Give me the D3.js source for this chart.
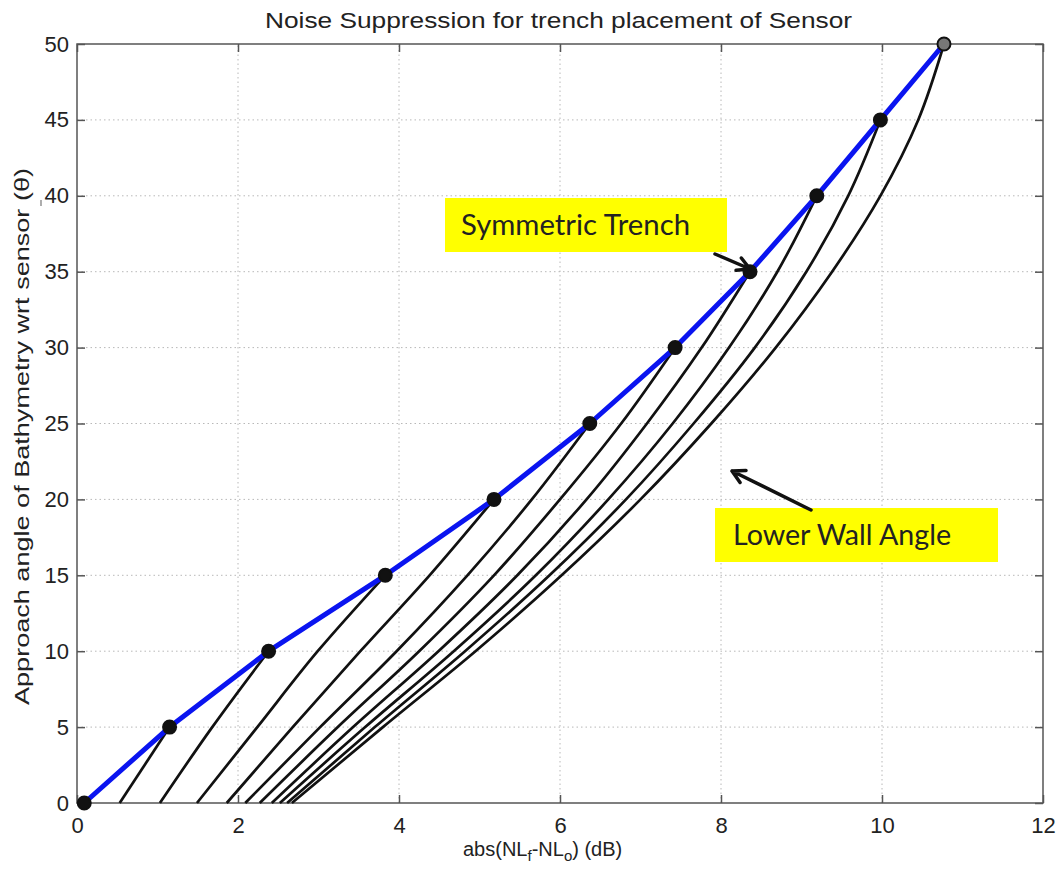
<!DOCTYPE html>
<html>
<head>
<meta charset="utf-8">
<script src="https://cdn.jsdelivr.net/npm/d3@7"></script>
<style>
  body { margin: 0; background: #fff; }
  text { font-family: "Liberation Sans", Arial, sans-serif; fill: #222; }
</style>
</head>
<body>
<svg id="chart"></svg>
<script>
// approach angle steps (deg)
const angles = [0, 5, 10, 15, 20, 25, 30, 35, 40, 45, 50]

// symmetric trench curve (blue)
const symmetricX = [0.09, 1.15, 2.38, 3.83, 5.18, 6.37, 7.43, 8.36, 9.19, 9.98, 10.77]

// lower wall angle curves, one per end angle (x at 0,5,10,... deg)
const wallCurves = [
  [0.53, 1.15],
  [1.03, 1.68, 2.38],
  [1.49, 2.24, 2.99, 3.83],
  [1.86, 2.68, 3.52, 4.38, 5.18],
  [2.09, 3.02, 3.97, 4.85, 5.65, 6.37],
  [2.27, 3.24, 4.25, 5.18, 6.00, 6.76, 7.43],
  [2.42, 3.43, 4.49, 5.47, 6.33, 7.08, 7.76, 8.36],
  [2.52, 3.58, 4.68, 5.70, 6.60, 7.40, 8.10, 8.70, 9.19],
  [2.61, 3.70, 4.82, 5.87, 6.82, 7.66, 8.42, 9.06, 9.58, 9.98],
  [2.67, 3.80, 4.95, 6.02, 7.00, 7.88, 8.68, 9.38, 9.98, 10.45, 10.77]
]

const xTicks = [0, 2, 4, 6, 8, 10, 12]
const yTicks = [0, 5, 10, 15, 20, 25, 30, 35, 40, 45, 50]

const width = 1058,
  height = 870

const margin = { top: 44, right: 15, bottom: 67, left: 77 }
const innerW = width - margin.left - margin.right,
  innerH = height - margin.top - margin.bottom

const svg = d3.select('#chart')
  .attr('width', width)
  .attr('height', height)

const x = d3.scaleLinear().domain([0, 12]).range([margin.left, margin.left + innerW])
const y = d3.scaleLinear().domain([0, 50]).range([margin.top + innerH, margin.top])

// grid
const grid = svg.append('g')
  .attr('stroke', '#b8b8b8')
  .attr('stroke-width', 1)
  .attr('stroke-dasharray', '1.5,3')

grid.selectAll('.vgrid')
  .data(xTicks.slice(1, -1))
  .enter().append('line')
  .attr('x1', d => x(d)).attr('x2', d => x(d))
  .attr('y1', y(0)).attr('y2', y(50))

grid.selectAll('.hgrid')
  .data(yTicks.slice(1, -1))
  .enter().append('line')
  .attr('x1', x(0)).attr('x2', x(12))
  .attr('y1', d => y(d)).attr('y2', d => y(d))

// axes with inward ticks (matlab box style)
const styleAxis = g => {
  g.select('.domain').remove()
  g.selectAll('.tick line').attr('stroke', '#555').attr('stroke-width', 1.5)
  g.selectAll('.tick text')
    .style('font-size', '22px')
    .style('font-family', '"Liberation Sans", Arial, sans-serif')
    .attr('fill', '#222')
}

svg.append('g')
  .attr('transform', `translate(0,${y(0)})`)
  .call(d3.axisBottom(x).tickValues(xTicks).tickSizeInner(-8).tickSizeOuter(0).tickPadding(14))
  .call(styleAxis)

svg.append('g')
  .attr('transform', `translate(0,${y(50)})`)
  .call(d3.axisTop(x).tickValues(xTicks).tickSizeInner(-8).tickSizeOuter(0).tickFormat(''))
  .call(styleAxis)

svg.append('g')
  .attr('transform', `translate(${x(0)},0)`)
  .call(d3.axisLeft(y).tickValues(yTicks).tickSizeInner(-8).tickSizeOuter(0).tickPadding(8))
  .call(styleAxis)

svg.append('g')
  .attr('transform', `translate(${x(12)},0)`)
  .call(d3.axisRight(y).tickValues(yTicks).tickSizeInner(-8).tickSizeOuter(0).tickFormat(''))
  .call(styleAxis)

svg.append('rect')
  .attr('x', x(0)).attr('y', y(50))
  .attr('width', x(12) - x(0)).attr('height', y(0) - y(50))
  .attr('fill', 'none')
  .attr('stroke', '#555')
  .attr('stroke-width', 1.5)

const curveLine = d3.line()
  .x(d => x(d[0]))
  .y(d => y(d[1]))
  .curve(d3.curveMonotoneY)

const straightLine = d3.line()
  .x(d => x(d[0]))
  .y(d => y(d[1]))

// black curves
svg.selectAll('.wall')
  .data(wallCurves)
  .enter().append('path')
  .attr('class', 'wall')
  .attr('d', c => curveLine(c.map((v, i) => [v, angles[i]])))
  .attr('fill', 'none')
  .attr('stroke', '#111')
  .attr('stroke-width', 2.7)
  .attr('stroke-linejoin', 'round')

// blue symmetric curve
const symPoints = symmetricX.map((v, i) => [v, angles[i]])

svg.append('path')
  .attr('d', straightLine(symPoints))
  .attr('fill', 'none')
  .attr('stroke', '#0a14f0')
  .attr('stroke-width', 5)
  .attr('stroke-linejoin', 'round')

svg.selectAll('.pt')
  .data(symPoints)
  .enter().append('circle')
  .attr('class', 'pt')
  .attr('cx', d => x(d[0]))
  .attr('cy', d => y(d[1]))
  .attr('r', 6.5)
  .attr('fill', (d, i) => i === symPoints.length - 1 ? '#777' : '#111')
  .attr('stroke', '#111')
  .attr('stroke-width', 2)

// titles
svg.append('text')
  .attr('x', 265)
  .attr('y', 28)
  .attr('textLength', 587)
  .attr('lengthAdjust', 'spacingAndGlyphs')
  .style('font-size', '22px')
  .text('Noise Suppression for trench placement of Sensor')

const xl = svg.append('text')
  .attr('x', 463)
  .attr('y', 856)
  .style('font-size', '20px')
xl.append('tspan').text('abs(NL')
xl.append('tspan').attr('dy', 5).style('font-size', '15px').text('f')
xl.append('tspan').attr('dy', -5).text('-NL')
xl.append('tspan').attr('dy', 5).style('font-size', '15px').text('o')
xl.append('tspan').attr('dy', -5).text(') (dB)')

svg.append('text')
  .attr('transform', 'translate(29,705) rotate(-90)')
  .attr('textLength', 537)
  .attr('lengthAdjust', 'spacingAndGlyphs')
  .style('font-size', '21px')
  .text('Approach angle of Bathymetry wrt sensor (\u03b8)')

// small stray mark left of the 40 label
svg.append('line')
  .attr('x1', 41).attr('x2', 41)
  .attr('y1', 200).attr('y2', 206)
  .attr('stroke', '#777').attr('stroke-width', 1.2)

// annotations
function arrow(x1, y1, x2, y2) {
  const a = Math.atan2(y2 - y1, x2 - x1),
    h = 14, s = 0.5
  svg.append('path')
    .attr('d', `M${x1},${y1}L${x2},${y2}` +
      `M${x2 - h * Math.cos(a - s)},${y2 - h * Math.sin(a - s)}L${x2},${y2}` +
      `L${x2 - h * Math.cos(a + s)},${y2 - h * Math.sin(a + s)}`)
    .attr('fill', 'none')
    .attr('stroke', '#111')
    .attr('stroke-width', 3.5)
    .attr('stroke-linecap', 'round')
    .attr('stroke-linejoin', 'round')
}

function label(bx, by, bw, bh, tx, tw, txt) {
  svg.append('rect')
    .attr('x', bx).attr('y', by)
    .attr('width', bw).attr('height', bh)
    .attr('fill', '#ffff00')
  svg.append('text')
    .attr('x', tx)
    .attr('y', by + bh / 2 + 10)
    .attr('textLength', tw)
    .attr('lengthAdjust', 'spacingAndGlyphs')
    .style('font-family', 'Lato, "Open Sans", sans-serif')
    .style('font-size', '28px')
    .attr('fill', '#111')
    .text(txt)
}

label(445, 198, 282, 54, 461, 229, 'Symmetric Trench')
arrow(715, 254, 750, 269)

label(715, 508, 283, 54, 733, 218, 'Lower Wall Angle')
arrow(811, 510, 732, 471)
</script>
</body>
</html>
